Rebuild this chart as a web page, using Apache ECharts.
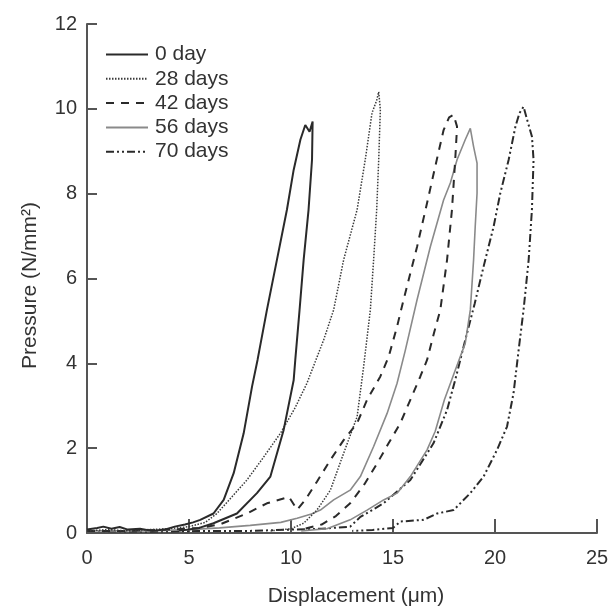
<!DOCTYPE html>
<html>
<head>
<meta charset="utf-8">
<script src="https://cdn.jsdelivr.net/npm/echarts@6/dist/echarts.min.js"></script>
<style>
html,body{margin:0;padding:0;background:#fff;}
#c{width:611px;height:610px;}
</style>
</head>
<body>
<div id="c"></div>
<script>
const seriesNames = ['0 day', '28 days', '42 days', '56 days', '70 days'];
const xTicks = [0, 5, 10, 15, 20, 25];
const yTicks = [0, 2, 4, 6, 8, 10, 12];

const day0 = [[0,0.08],[0.5,0.12],[0.8,0.15],[1.2,0.1],[1.6,0.14],[2,0.08],[2.6,0.1],[3.2,0.05],[3.8,0.08],[4.3,0.15],[4.8,0.2],[5.2,0.25],[5.55,0.31],[6.2,0.46],[6.7,0.78],[7.19,1.41],[7.68,2.35],[8.09,3.45],[8.36,4.08],[8.82,5.26],[9.31,6.44],[9.8,7.62],[10.13,8.56],[10.46,9.27],[10.7,9.62],[10.91,9.46],[11.06,9.7],[11.03,8.8],[10.86,7.62],[10.62,6.44],[10.42,5.26],[10.21,4.08],[10.13,3.6],[9.64,2.43],[8.99,1.33],[8.33,0.94],[7.35,0.46],[6.2,0.23],[5.5,0.12],[4.5,0.05]];

const day28 = [[0,0.05],[1,0.08],[2,0.05],[3,0.08],[4,0.1],[5,0.15],[5.8,0.25],[6.37,0.46],[7.1,0.85],[7.84,1.25],[8.6,1.75],[9.48,2.35],[10.2,2.95],[10.78,3.53],[11.6,4.55],[12.09,5.26],[12.58,6.44],[13.24,7.62],[13.64,8.8],[13.97,9.9],[14.2,10.2],[14.3,10.4],[14.38,9.98],[14.3,8.8],[14.2,7.62],[14.05,6.44],[13.89,5.26],[13.56,3.92],[13.24,2.74],[12.58,1.88],[11.93,1.01],[11.27,0.54],[10.62,0.23],[10,0.1],[9,0.05]];

const day42 = [[0,0.05],[2,0.05],[4,0.08],[5.5,0.12],[6.5,0.2],[7.84,0.46],[8.82,0.7],[9.9,0.85],[10.3,0.55],[10.7,0.78],[11.27,1.21],[11.93,1.72],[12.58,2.19],[13.24,2.59],[13.73,3.14],[14.38,3.69],[14.79,4.16],[15.2,4.87],[15.52,5.5],[16.18,6.75],[16.67,7.78],[17.07,8.64],[17.48,9.5],[17.75,9.8],[17.97,9.86],[18.14,9.58],[18.05,8.8],[17.89,7.62],[17.65,6.44],[17.32,5.26],[17.0,4.7],[16.67,4.08],[16.34,3.69],[15.85,3.14],[15.36,2.59],[14.79,2.12],[14.22,1.64],[13.6,1.15],[12.9,0.7],[12.2,0.4],[11.5,0.2],[10.5,0.08]];

const day56 = [[0,0.05],[3,0.05],[5,0.08],[6.5,0.12],[8,0.18],[9.5,0.25],[10.3,0.35],[11.0,0.45],[11.44,0.54],[12.09,0.78],[12.9,1.01],[13.4,1.33],[14.05,2.04],[14.71,2.82],[15.2,3.53],[15.6,4.3],[16.18,5.5],[16.83,6.75],[17.48,7.85],[17.81,8.25],[18.14,8.8],[18.54,9.27],[18.79,9.54],[18.95,9.11],[19.12,8.72],[19.12,8.01],[19.03,7.22],[18.95,6.44],[18.79,5.26],[18.54,4.47],[18.0,3.77],[17.52,3.14],[17.07,2.4],[16.67,1.96],[15.85,1.33],[15.2,0.94],[14.54,0.78],[13.73,0.54],[12.9,0.31],[11.76,0.1],[10.5,0.05]];

const day70 = [[0,0.05],[3,0.03],[6,0.05],[8,0.05],[10,0.08],[11.5,0.1],[12.9,0.15],[13.4,0.38],[14.54,0.7],[15.85,1.25],[16.99,2.12],[17.65,2.9],[18.1,3.7],[18.5,4.47],[19.0,5.4],[19.44,6.28],[19.93,7.22],[20.26,8.01],[20.67,8.8],[21.0,9.58],[21.2,9.9],[21.4,10.05],[21.6,9.7],[21.81,9.35],[21.89,8.8],[21.81,7.62],[21.65,6.44],[21.4,5.26],[21.16,4.32],[20.91,3.3],[20.59,2.51],[20.1,1.96],[19.44,1.33],[18.79,0.94],[17.97,0.54],[17.16,0.46],[16.5,0.31],[15.36,0.27],[15,0.12],[14,0.07],[13,0.05]];

const dataSets = [day0, day28, day42, day56, day70];
const styles = [
  {color:'#2a2a2a', width:2, type:'solid'},
  {color:'#3a3a3a', width:1.5, type:[1.5,1.5]},
  {color:'#2a2a2a', width:2, type:[8,7]},
  {color:'#8a8a8a', width:1.6, type:'solid'},
  {color:'#2a2a2a', width:2, type:[8,3,2,3,2,3]}
];

const FONT = '"Liberation Sans", Arial, sans-serif';
const chart = echarts.init(document.getElementById('c'), null, {renderer:'canvas'});
chart.setOption({
  animation:false,
  backgroundColor:'#fff',
  grid:{left:87, right:14, top:24, bottom:77, containLabel:false, outerBoundsMode:'none'},
  legend:{
    orient:'vertical', left:105, top:44, padding:0,
    itemWidth:42, itemHeight:21, itemGap:3.3,
    data:seriesNames,
    itemStyle:{opacity:0},
    textStyle:{fontSize:21, color:'#333', fontFamily:FONT, lineHeight:21, padding:[0,0,0,2]}
  },
  xAxis:{
    type:'value', min:xTicks[0], max:xTicks[xTicks.length-1], interval:5,
    name:'Displacement (μm)', nameLocation:'middle', nameGap:53,
    nameTextStyle:{fontSize:21, color:'#333', fontFamily:FONT, padding:[0,0,0,28]},
    axisLine:{show:true, lineStyle:{color:'#555', width:2}},
    axisTick:{show:true, inside:true, length:14, lineStyle:{color:'#555', width:2}},
    axisLabel:{fontSize:20, color:'#333', fontFamily:FONT, margin:15},
    splitLine:{show:false}
  },
  yAxis:{
    type:'value', min:yTicks[0], max:yTicks[yTicks.length-1], interval:2,
    name:'Pressure (N/mm²)', nameLocation:'middle', nameGap:46, nameRotate:90,
    nameTextStyle:{fontSize:21, color:'#333', fontFamily:FONT, padding:[0,14,0,0]},
    axisLine:{show:true, lineStyle:{color:'#555', width:2}},
    axisTick:{show:true, inside:true, length:10, lineStyle:{color:'#555', width:2}},
    axisLabel:{fontSize:20, color:'#333', fontFamily:FONT, margin:10},
    splitLine:{show:false}
  },
  series: dataSets.map((d,i)=>({
    name:seriesNames[i], type:'line', data:d,
    showSymbol:false, symbol:'none', smooth:false,
    lineStyle:{color:styles[i].color, width:styles[i].width, type:styles[i].type},
    itemStyle:{color:styles[i].color},
    z: 10 - i
  }))
});
</script>
</body>
</html>
